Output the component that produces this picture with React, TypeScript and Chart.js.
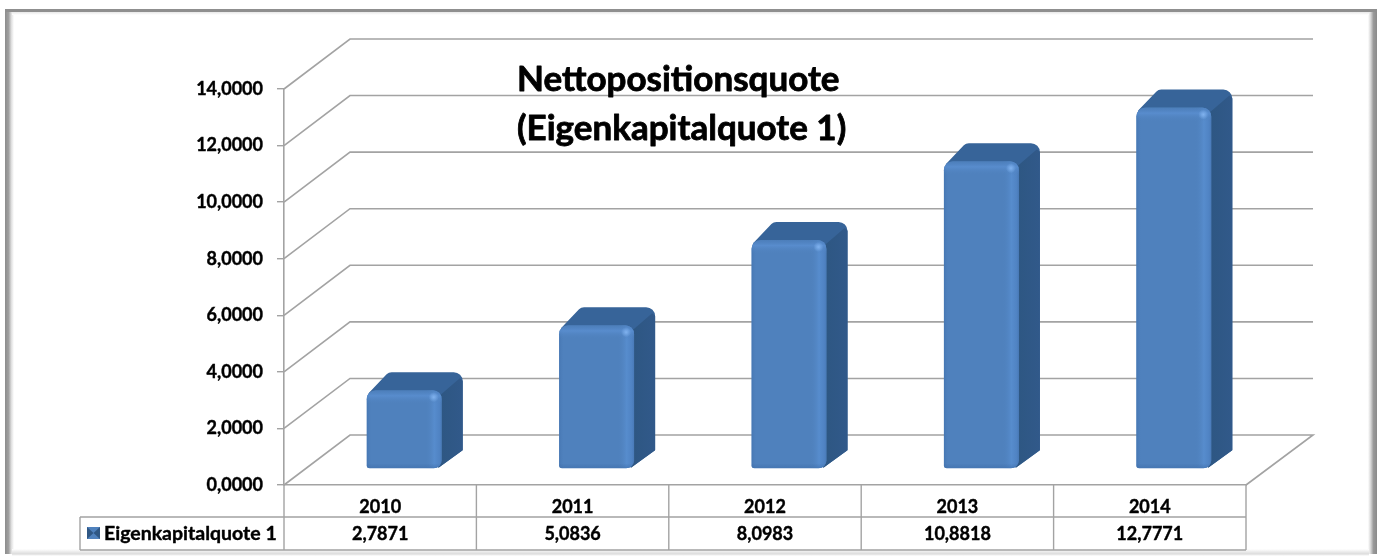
import React, { useEffect, useRef } from "react";
import { Chart, registerables } from "chart.js";

Chart.register(...registerables);

const categories = ["2010", "2011", "2012", "2013", "2014"];
const seriesName = "Eigenkapitalquote 1";
const seriesValues = [2.7871, 5.0836, 8.0983, 10.8818, 12.7771];
const titleLines = ["Nettopositionsquote", "(Eigenkapitalquote 1)"];

const FONT = "Lato, Carlito, 'Open Sans', sans-serif";
const W = 1383;
const H = 559;
const AREA = { left: 284, right: 1246, top: 89, bottom: 485 };
const WALL = { dx: 66, dy: -50 };
const BAR_SHIFT = { dx: 24, dy: -16 };
const BAR_DEPTH = { dx: 21, dy: -18 };
const LINE = "#a3a3a3";

const fmt = (v: number) => v.toFixed(4).replace(".", ",");

function roundedPoly(ctx: CanvasRenderingContext2D, pts: number[][], radii: number[]) {
  const n = pts.length;
  ctx.beginPath();
  const m0 = [(pts[n - 1][0] + pts[0][0]) / 2, (pts[n - 1][1] + pts[0][1]) / 2];
  ctx.moveTo(m0[0], m0[1]);
  for (let i = 0; i < n; i++) {
    const p = pts[i];
    const q = pts[(i + 1) % n];
    ctx.arcTo(p[0], p[1], (p[0] + q[0]) / 2, (p[1] + q[1]) / 2, radii[i]);
  }
  ctx.closePath();
}

const framePlugin = {
  id: "frame",
  beforeDraw(chart: any) {
    const c = chart.ctx as CanvasRenderingContext2D;
    c.save();
    c.fillStyle = "#ffffff";
    c.fillRect(0, 0, W, H);
    let g = c.createLinearGradient(5, 0, 14, 0);
    g.addColorStop(0, "#8c8c8c");
    g.addColorStop(0.4, "#a0a0a0");
    g.addColorStop(0.7, "#dedede");
    g.addColorStop(1, "#ffffff");
    c.fillStyle = g;
    c.fillRect(5, 9, 9, 545);
    g = c.createLinearGradient(1368, 0, 1377, 0);
    g.addColorStop(0, "#ffffff");
    g.addColorStop(0.3, "#d6d6d6");
    g.addColorStop(0.6, "#9a9a9a");
    g.addColorStop(1, "#8a8a8a");
    c.fillStyle = g;
    c.fillRect(1368, 9, 9, 545);
    g = c.createLinearGradient(0, 549, 0, 556);
    g.addColorStop(0, "#ffffff");
    g.addColorStop(0.7, "#dcdcdc");
    g.addColorStop(1, "#ffffff");
    c.fillStyle = g;
    c.fillRect(12, 549, 1357, 7);
    c.fillStyle = "#8f8f8f";
    c.fillRect(5, 9, 1372, 3);
    g = c.createLinearGradient(0, 12, 0, 15);
    g.addColorStop(0, "#e8e8e8");
    g.addColorStop(1, "#ffffff");
    c.fillStyle = g;
    c.fillRect(12, 12, 1357, 3);
    c.restore();
  },
};

const wallPlugin = {
  id: "wall",
  beforeDatasetsDraw(chart: any) {
    const c = chart.ctx as CanvasRenderingContext2D;
    const y = chart.scales.y;
    const { left, right } = chart.chartArea;
    c.save();
    c.strokeStyle = LINE;
    c.lineWidth = 1.6;
    y.ticks.forEach((t: any) => {
      const py = y.getPixelForValue(t.value);
      c.beginPath();
      c.moveTo(left, py);
      c.lineTo(left + WALL.dx, py + WALL.dy);
      c.lineTo(right + WALL.dx + 1, py + WALL.dy);
      if (t.value === 0) {
        c.lineTo(right, py);
      }
      c.stroke();
    });
    c.restore();
  },
};

const barPlugin = {
  id: "bar3d",
  beforeDatasetDraw(chart: any, args: any) {
    const c = chart.ctx as CanvasRenderingContext2D;
    c.save();
    args.meta.data.forEach((el: any) => {
      const xl = el.x - el.width / 2 + BAR_SHIFT.dx;
      const xr = el.x + el.width / 2 + BAR_SHIFT.dx;
      const yt = el.y + BAR_SHIFT.dy;
      const yb = el.base + BAR_SHIFT.dy;
      const bx = xr + BAR_DEPTH.dx;
      const by = yt + BAR_DEPTH.dy;
      c.save();
      // silhouette of the back of the column, in the colour of the top face
      roundedPoly(
        c,
        [
          [xl - 2, yt + 7],
          [xl + BAR_DEPTH.dx + 1, by],
          [bx, by],
          [bx, yb + BAR_DEPTH.dy],
          [xr - 4, yb],
          [xr - 8, yt + 10],
        ],
        [3, 7, 9, 1, 1, 1],
      );
      c.fillStyle = "#376499";
      c.fill();
      c.clip();
      // side face
      const gs = c.createLinearGradient(xr, 0, bx, 0);
      gs.addColorStop(0, "#2e5783");
      gs.addColorStop(1, "#31598a");
      c.fillStyle = gs;
      c.beginPath();
      c.moveTo(xr - 4, yt + 7);
      c.lineTo(bx - 3, by + 6);
      c.lineTo(bx + 2, by + 10);
      c.lineTo(bx + 2, yb + BAR_DEPTH.dy + 2);
      c.lineTo(xr - 4, yb + 2);
      c.closePath();
      c.fill();
      c.restore();
    });
    c.translate(BAR_SHIFT.dx, BAR_SHIFT.dy);
  },
  afterDatasetDraw(chart: any, args: any) {
    const c = chart.ctx as CanvasRenderingContext2D;
    // still translated to the front plane of the bars
    args.meta.data.forEach((el: any) => {
      const xl = el.x - el.width / 2;
      const w = el.width;
      const h = el.base - el.y;
      c.save();
      c.beginPath();
      c.roundRect(xl, el.y, w, h, [9, 9, 8, 3]);
      c.clip();
      const gh = c.createLinearGradient(xl, 0, xl + w, 0);
      gh.addColorStop(0, "rgba(62,110,170,0.55)");
      gh.addColorStop(0.07, "rgba(79,129,189,0)");
      gh.addColorStop(0.78, "rgba(79,129,189,0)");
      gh.addColorStop(0.9, "rgba(90,145,212,0.7)");
      gh.addColorStop(0.97, "rgba(80,132,198,0.7)");
      gh.addColorStop(1, "rgba(70,118,180,0.6)");
      c.fillStyle = gh;
      c.fillRect(xl, el.y, w, h);
      const gv = c.createLinearGradient(0, el.y, 0, el.y + 14);
      gv.addColorStop(0, "rgba(74,124,184,0.5)");
      gv.addColorStop(0.4, "rgba(92,145,212,0.7)");
      gv.addColorStop(1, "rgba(79,129,189,0)");
      c.fillStyle = gv;
      c.fillRect(xl, el.y, w, 14);
      const gb = c.createLinearGradient(0, el.base - 5, 0, el.base);
      gb.addColorStop(0, "rgba(60,105,165,0)");
      gb.addColorStop(1, "rgba(62,110,170,0.55)");
      c.fillStyle = gb;
      c.fillRect(xl, el.base - 5, w, 5);
      const r = c.createRadialGradient(xl + w - 8, el.y + 7, 0, xl + w - 8, el.y + 7, 5);
      r.addColorStop(0, "rgba(130,180,240,0.95)");
      r.addColorStop(1, "rgba(130,180,240,0)");
      c.fillStyle = r;
      c.fillRect(xl + w - 14, el.y + 1, 12, 12);
      c.restore();
    });
    c.restore();
  },
};

const tablePlugin = {
  id: "dataTable",
  afterDraw(chart: any) {
    const c = chart.ctx as CanvasRenderingContext2D;
    const { left, right, bottom } = chart.chartArea;
    const x = chart.scales.x;
    const row1 = 517;
    const row2 = 550;
    const keyLeft = 80;
    const cell = (right - left) / categories.length;
    c.save();
    c.strokeStyle = LINE;
    c.lineWidth = 1.4;
    c.beginPath();
    c.moveTo(keyLeft, row1);
    c.lineTo(right, row1);
    c.moveTo(keyLeft, row2);
    c.lineTo(right, row2);
    c.moveTo(keyLeft, row1);
    c.lineTo(keyLeft, row2);
    for (let i = 0; i <= categories.length; i++) {
      const px = left + cell * i;
      c.moveTo(px, bottom);
      c.lineTo(px, row2);
    }
    c.stroke();

    // legend key
    const kx = 87;
    const ky = 527;
    const kw = 13;
    const kh = 12;
    c.fillStyle = "#4f81bd";
    c.fillRect(kx, ky, kw, kh);
    c.fillStyle = "#2f5784";
    c.beginPath();
    c.moveTo(kx, ky);
    c.lineTo(kx + kw / 2, ky + kh / 2);
    c.lineTo(kx, ky + kh);
    c.closePath();
    c.moveTo(kx + kw, ky);
    c.lineTo(kx + kw / 2, ky + kh / 2);
    c.lineTo(kx + kw, ky + kh);
    c.closePath();
    c.fill();

    c.fillStyle = "#000000";
    c.strokeStyle = "#000000";
    c.lineJoin = "round";
    const put = (s: string, px: number, py: number, sw: number) => {
      c.lineWidth = sw;
      c.strokeText(s, px, py);
      c.fillText(s, px, py);
    };
    c.font = `700 18px ${FONT}`;
    c.textBaseline = "alphabetic";
    c.textAlign = "center";
    seriesValues.forEach((v, i) => {
      put(fmt(v), x.getPixelForValue(i), 540, 0.4);
    });
    c.textAlign = "left";
    c.font = `700 19.5px ${FONT}`;
    put(seriesName, 104, 540, 0.4);
    c.font = `700 35px ${FONT}`;
    titleLines.forEach((t, i) => {
      put(t, 517, 91 + i * 49, 0.8);
    });
    c.restore();
  },
};

export default function App() {
  const ref = useRef<HTMLCanvasElement>(null);
  useEffect(() => {
    if (!ref.current) return;
    const chart = new Chart(ref.current, {
      type: "bar",
      data: {
        labels: categories,
        datasets: [
          {
            label: seriesName,
            data: seriesValues,
            backgroundColor: "#4f81bd",
            barPercentage: 0.39,
            categoryPercentage: 1,
            borderRadius: { topLeft: 9, topRight: 9, bottomLeft: 3, bottomRight: 8 },
            borderSkipped: false,
            clip: false as any,
          },
        ],
      },
      options: {
        responsive: false,
        animation: false,
        layout: {
          padding: { left: 0, top: AREA.top, right: W - AREA.right, bottom: 0 },
        },
        plugins: {
          legend: { display: false },
          title: { display: false },
          tooltip: { enabled: false },
        },
        scales: {
          x: {
            afterFit: (s: any) => {
              s.height = H - AREA.bottom;
            },
            grid: { display: false },
            border: { display: true, color: LINE, width: 1.6 },
            ticks: {
              padding: 3,
              color: "#000000",
              textStrokeColor: "#000000",
              textStrokeWidth: 0.4,
              font: { family: FONT, size: 18, weight: 700 },
              maxRotation: 0,
            },
          },
          y: {
            min: 0,
            max: 14,
            afterFit: (s: any) => {
              s.width = AREA.left;
            },
            grid: { drawOnChartArea: false, drawTicks: true, tickLength: 7, color: LINE, lineWidth: 1.4 },
            border: { display: true, color: LINE, width: 1.6 },
            ticks: {
              stepSize: 2,
              padding: 14,
              color: "#000000",
              textStrokeColor: "#000000",
              textStrokeWidth: 0.4,
              font: { family: FONT, size: 18, weight: 700 },
              callback: (v: any) => fmt(Number(v)),
            },
          },
        },
      },
      plugins: [framePlugin, wallPlugin, barPlugin, tablePlugin],
    });
    return () => chart.destroy();
  }, []);
  return (
    <div style={{ position: "absolute", left: 0, top: 0, width: W, height: H }}>
      <canvas ref={ref} width={W} height={H} style={{ display: "block" }} />
    </div>
  );
}
